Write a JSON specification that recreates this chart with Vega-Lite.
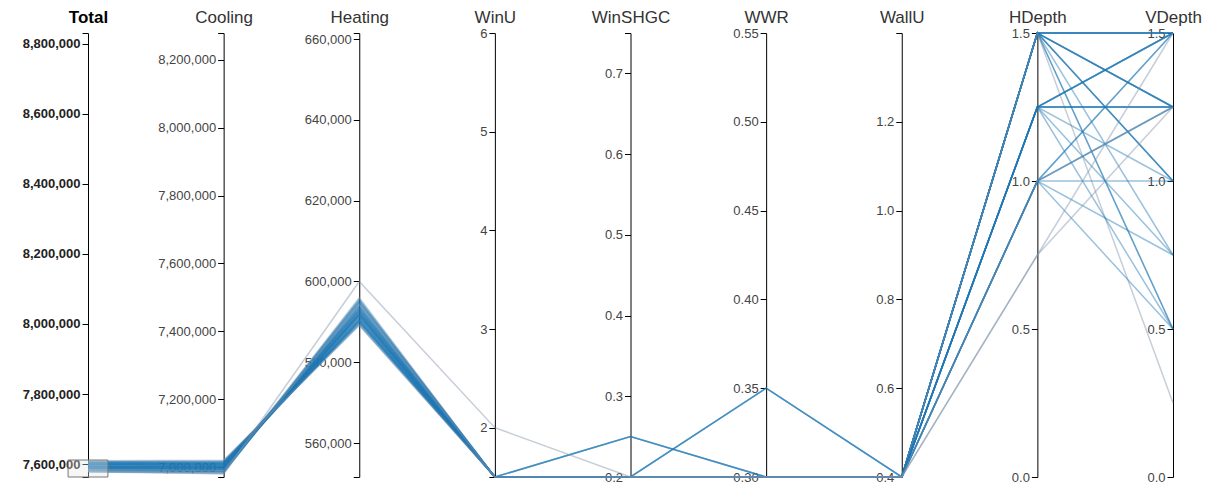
{
  "$schema": "https://vega.github.io/schema/vega-lite/v6.json",
  "width": 1085,
  "height": 444,
  "autosize": {"type": "none"},
  "padding": {"left": 88, "top": 33, "right": 39, "bottom": 9},
  "background": "white",
  "datasets": {
    "rows": [
      {"id": 1, "grp": "a", "Total": 7593500, "Cooling": 7002000, "Heating": 591500, "WinU": 1.5, "WinSHGC": 0.2, "WWR": 0.3, "WallU": 0.4, "HDepth": 1.5, "VDepth": 1.5},
      {"id": 2, "grp": "a", "Total": 7587300, "Cooling": 6995000, "Heating": 592300, "WinU": 1.5, "WinSHGC": 0.2, "WWR": 0.3, "WallU": 0.4, "HDepth": 1.5, "VDepth": 1.5},
      {"id": 3, "grp": "a", "Total": 7598800, "Cooling": 7008000, "Heating": 590800, "WinU": 1.5, "WinSHGC": 0.25, "WWR": 0.3, "WallU": 0.4, "HDepth": 1.5, "VDepth": 1.5},
      {"id": 4, "grp": "a", "Total": 7581400, "Cooling": 6988000, "Heating": 593400, "WinU": 1.5, "WinSHGC": 0.2, "WWR": 0.3, "WallU": 0.4, "HDepth": 1.5, "VDepth": 1.5},
      {"id": 5, "grp": "a", "Total": 7603100, "Cooling": 7013000, "Heating": 590100, "WinU": 1.5, "WinSHGC": 0.2, "WWR": 0.3, "WallU": 0.4, "HDepth": 1.5, "VDepth": 1.5},
      {"id": 6, "grp": "a", "Total": 7590900, "Cooling": 6999000, "Heating": 591900, "WinU": 1.5, "WinSHGC": 0.2, "WWR": 0.3, "WallU": 0.4, "HDepth": 1.5, "VDepth": 1.25},
      {"id": 7, "grp": "a", "Total": 7597700, "Cooling": 7005000, "Heating": 592700, "WinU": 1.5, "WinSHGC": 0.2, "WWR": 0.35, "WallU": 0.4, "HDepth": 1.5, "VDepth": 1.25},
      {"id": 8, "grp": "a", "Total": 7585000, "Cooling": 6991000, "Heating": 594000, "WinU": 1.5, "WinSHGC": 0.2, "WWR": 0.3, "WallU": 0.4, "HDepth": 1.5, "VDepth": 1.25},
      {"id": 9, "grp": "a", "Total": 7605600, "Cooling": 7016000, "Heating": 589600, "WinU": 1.5, "WinSHGC": 0.2, "WWR": 0.3, "WallU": 0.4, "HDepth": 1.5, "VDepth": 1.25},
      {"id": 10, "grp": "a", "Total": 7578800, "Cooling": 6984000, "Heating": 594800, "WinU": 1.5, "WinSHGC": 0.2, "WWR": 0.3, "WallU": 0.4, "HDepth": 1.5, "VDepth": 1.0},
      {"id": 11, "grp": "a", "Total": 7601200, "Cooling": 7010000, "Heating": 591200, "WinU": 1.5, "WinSHGC": 0.25, "WWR": 0.3, "WallU": 0.4, "HDepth": 1.5, "VDepth": 1.0},
      {"id": 12, "grp": "a", "Total": 7590000, "Cooling": 6997000, "Heating": 593000, "WinU": 1.5, "WinSHGC": 0.2, "WWR": 0.3, "WallU": 0.4, "HDepth": 1.5, "VDepth": 1.0},
      {"id": 13, "grp": "a", "Total": 7593400, "Cooling": 7003000, "Heating": 590400, "WinU": 1.5, "WinSHGC": 0.2, "WWR": 0.3, "WallU": 0.4, "HDepth": 1.5, "VDepth": 0.75},
      {"id": 14, "grp": "a", "Total": 7588300, "Cooling": 6993000, "Heating": 595300, "WinU": 1.5, "WinSHGC": 0.2, "WWR": 0.3, "WallU": 0.4, "HDepth": 1.5, "VDepth": 0.5},
      {"id": 15, "grp": "a", "Total": 7599000, "Cooling": 7007000, "Heating": 592000, "WinU": 1.5, "WinSHGC": 0.2, "WWR": 0.3, "WallU": 0.4, "HDepth": 1.5, "VDepth": 0.5},
      {"id": 16, "grp": "b", "Total": 7582000, "Cooling": 6986000, "Heating": 596000, "WinU": 1.5, "WinSHGC": 0.2, "WWR": 0.3, "WallU": 0.4, "HDepth": 1.5, "VDepth": 0.25},
      {"id": 17, "grp": "a", "Total": 7592000, "Cooling": 7001000, "Heating": 591000, "WinU": 1.5, "WinSHGC": 0.2, "WWR": 0.3, "WallU": 0.4, "HDepth": 1.25, "VDepth": 1.5},
      {"id": 18, "grp": "a", "Total": 7600900, "Cooling": 7011000, "Heating": 589900, "WinU": 1.5, "WinSHGC": 0.2, "WWR": 0.3, "WallU": 0.4, "HDepth": 1.25, "VDepth": 1.5},
      {"id": 19, "grp": "a", "Total": 7587700, "Cooling": 6994000, "Heating": 593700, "WinU": 1.5, "WinSHGC": 0.2, "WWR": 0.35, "WallU": 0.4, "HDepth": 1.25, "VDepth": 1.5},
      {"id": 20, "grp": "a", "Total": 7607300, "Cooling": 7018000, "Heating": 589300, "WinU": 1.5, "WinSHGC": 0.2, "WWR": 0.3, "WallU": 0.4, "HDepth": 1.25, "VDepth": 1.5},
      {"id": 21, "grp": "a", "Total": 7590500, "Cooling": 6998000, "Heating": 592500, "WinU": 1.5, "WinSHGC": 0.2, "WWR": 0.3, "WallU": 0.4, "HDepth": 1.25, "VDepth": 1.25},
      {"id": 22, "grp": "a", "Total": 7597700, "Cooling": 7006000, "Heating": 591700, "WinU": 1.5, "WinSHGC": 0.25, "WWR": 0.3, "WallU": 0.4, "HDepth": 1.25, "VDepth": 1.25},
      {"id": 23, "grp": "a", "Total": 7583500, "Cooling": 6989000, "Heating": 594500, "WinU": 1.5, "WinSHGC": 0.2, "WWR": 0.3, "WallU": 0.4, "HDepth": 1.25, "VDepth": 1.25},
      {"id": 24, "grp": "a", "Total": 7604600, "Cooling": 7014000, "Heating": 590600, "WinU": 1.5, "WinSHGC": 0.2, "WWR": 0.3, "WallU": 0.4, "HDepth": 1.25, "VDepth": 1.25},
      {"id": 25, "grp": "a", "Total": 7592900, "Cooling": 7000000, "Heating": 592900, "WinU": 1.5, "WinSHGC": 0.2, "WWR": 0.3, "WallU": 0.4, "HDepth": 1.25, "VDepth": 1.0},
      {"id": 26, "grp": "a", "Total": 7585900, "Cooling": 6992000, "Heating": 593900, "WinU": 1.5, "WinSHGC": 0.2, "WWR": 0.3, "WallU": 0.4, "HDepth": 1.25, "VDepth": 0.75},
      {"id": 27, "grp": "a", "Total": 7600400, "Cooling": 7009000, "Heating": 591400, "WinU": 1.5, "WinSHGC": 0.2, "WWR": 0.3, "WallU": 0.4, "HDepth": 1.25, "VDepth": 0.5},
      {"id": 28, "grp": "a", "Total": 7588200, "Cooling": 6996000, "Heating": 592200, "WinU": 1.5, "WinSHGC": 0.2, "WWR": 0.3, "WallU": 0.4, "HDepth": 1.0, "VDepth": 1.5},
      {"id": 29, "grp": "a", "Total": 7602300, "Cooling": 7012000, "Heating": 590300, "WinU": 1.5, "WinSHGC": 0.2, "WWR": 0.35, "WallU": 0.4, "HDepth": 1.0, "VDepth": 1.5},
      {"id": 30, "grp": "a", "Total": 7582000, "Cooling": 6987000, "Heating": 595000, "WinU": 1.5, "WinSHGC": 0.2, "WWR": 0.3, "WallU": 0.4, "HDepth": 1.0, "VDepth": 1.25},
      {"id": 31, "grp": "a", "Total": 7595800, "Cooling": 7004000, "Heating": 591800, "WinU": 1.5, "WinSHGC": 0.2, "WWR": 0.3, "WallU": 0.4, "HDepth": 1.0, "VDepth": 1.25},
      {"id": 32, "grp": "a", "Total": 7577600, "Cooling": 6982000, "Heating": 595600, "WinU": 1.5, "WinSHGC": 0.2, "WWR": 0.3, "WallU": 0.4, "HDepth": 1.0, "VDepth": 1.0},
      {"id": 33, "grp": "a", "Total": 7605000, "Cooling": 7015000, "Heating": 590000, "WinU": 1.5, "WinSHGC": 0.2, "WWR": 0.3, "WallU": 0.4, "HDepth": 1.0, "VDepth": 0.75},
      {"id": 34, "grp": "a", "Total": 7592700, "Cooling": 6999500, "Heating": 593200, "WinU": 1.5, "WinSHGC": 0.2, "WWR": 0.3, "WallU": 0.4, "HDepth": 1.0, "VDepth": 0.5},
      {"id": 35, "grp": "b", "Total": 7609100, "Cooling": 7020000, "Heating": 589100, "WinU": 1.5, "WinSHGC": 0.2, "WWR": 0.3, "WallU": 0.4, "HDepth": 0.75, "VDepth": 1.5},
      {"id": 36, "grp": "b", "Total": 7584300, "Cooling": 6990000, "Heating": 594300, "WinU": 1.5, "WinSHGC": 0.2, "WWR": 0.3, "WallU": 0.4, "HDepth": 0.75, "VDepth": 1.25},
      {"id": 37, "grp": "b", "Total": 7580000, "Cooling": 6980000, "Heating": 600000, "WinU": 2, "WinSHGC": 0.2, "WWR": 0.3, "WallU": 0.4, "HDepth": 1.0, "VDepth": 1.25}
    ],
    "dims": [
      {"dim": "Total", "idx": 0, "lo": 7563000, "hi": 8831000},
      {"dim": "Cooling", "idx": 1, "lo": 6971000, "hi": 8279000},
      {"dim": "Heating", "idx": 2, "lo": 551600, "hi": 661500},
      {"dim": "WinU", "idx": 3, "lo": 1.5, "hi": 6},
      {"dim": "WinSHGC", "idx": 4, "lo": 0.2, "hi": 0.75},
      {"dim": "WWR", "idx": 5, "lo": 0.3, "hi": 0.55},
      {"dim": "WallU", "idx": 6, "lo": 0.4, "hi": 1.4},
      {"dim": "HDepth", "idx": 7, "lo": 0, "hi": 1.5},
      {"dim": "VDepth", "idx": 8, "lo": 0, "hi": 1.5}
    ],
    "brush": [
      {"lo": 7563000, "hi": 7611500}
    ]
  },
  "data": {"name": "rows"},
  "layer": [
    {
      "transform": [
        {"fold": ["Total", "Cooling", "Heating", "WinU", "WinSHGC", "WWR", "WallU", "HDepth", "VDepth"], "as": ["key", "value"]},
        {"lookup": "key", "from": {"data": {"name": "dims"}, "key": "dim", "fields": ["idx", "lo", "hi"]}},
        {"calculate": "(datum.value - datum.lo) / (datum.hi - datum.lo)", "as": "norm"}
      ],
      "mark": {"type": "line", "strokeWidth": 1.5, "opacity": 0.45},
      "encoding": {
        "x": {"field": "idx", "type": "quantitative", "scale": {"domain": [0, 8], "nice": false, "zero": false}, "axis": null},
        "y": {"field": "norm", "type": "quantitative", "scale": {"domain": [0, 1], "nice": false, "zero": false}, "axis": null},
        "detail": {"field": "id", "type": "nominal"},
        "order": {"field": "idx", "type": "quantitative"},
        "color": {"field": "grp", "type": "nominal", "scale": {"domain": ["a", "b"], "range": ["#1f77b4", "#7f93aa"]}, "legend": null}
      }
    },
    {
      "mark": {"type": "point", "opacity": 0},
      "encoding": {
        "y": {"field": "Cooling", "type": "quantitative", "scale": {"domain": [6971000, 8279000], "nice": false, "zero": false},
          "axis": {"orient": "left", "offset": -135.625, "title": "Cooling", "values": [6971000, 7000000, 7200000, 7400000, 7600000, 7800000, 8000000, 8200000, 8279000],
            "labelExpr": "datum.value < 6980000 || datum.value > 8270000 ? '' : format(datum.value, ',')"}}
      }
    },
    {
      "mark": {"type": "point", "opacity": 0},
      "encoding": {
        "y": {"field": "Heating", "type": "quantitative", "scale": {"domain": [551600, 661500], "nice": false, "zero": false},
          "axis": {"orient": "left", "offset": -271.25, "title": "Heating", "values": [551600, 560000, 580000, 600000, 620000, 640000, 660000, 661500],
            "labelExpr": "datum.value < 555000 || datum.value > 661000 ? '' : format(datum.value, ',')"}}
      }
    },
    {
      "mark": {"type": "point", "opacity": 0},
      "encoding": {
        "y": {"field": "WinU", "type": "quantitative", "scale": {"domain": [1.5, 6], "nice": false, "zero": false},
          "axis": {"orient": "left", "offset": -406.875, "title": "WinU", "values": [1.5, 2, 3, 4, 5, 6],
            "labelExpr": "datum.value < 1.9 ? '' : format(datum.value, 'd')"}}
      }
    },
    {
      "mark": {"type": "point", "opacity": 0},
      "encoding": {
        "y": {"field": "WinSHGC", "type": "quantitative", "scale": {"domain": [0.2, 0.75], "nice": false, "zero": false},
          "axis": {"orient": "left", "offset": -542.5, "title": "WinSHGC", "values": [0.2, 0.3, 0.4, 0.5, 0.6, 0.7, 0.75],
            "labelExpr": "datum.value > 0.74 ? '' : format(datum.value, '.1f')"}}
      }
    },
    {
      "mark": {"type": "point", "opacity": 0},
      "encoding": {
        "y": {"field": "WWR", "type": "quantitative", "scale": {"domain": [0.3, 0.55], "nice": false, "zero": false},
          "axis": {"orient": "left", "offset": -678.125, "title": "WWR", "values": [0.3, 0.35, 0.4, 0.45, 0.5, 0.55], "format": ".2f"}}
      }
    },
    {
      "mark": {"type": "point", "opacity": 0},
      "encoding": {
        "y": {"field": "WallU", "type": "quantitative", "scale": {"domain": [0.4, 1.4], "nice": false, "zero": false},
          "axis": {"orient": "left", "offset": -813.75, "title": "WallU", "values": [0.4, 0.6, 0.8, 1.0, 1.2, 1.4],
            "labelExpr": "datum.value > 1.39 ? '' : format(datum.value, '.1f')"}}
      }
    },
    {
      "mark": {"type": "point", "opacity": 0},
      "encoding": {
        "y": {"field": "HDepth", "type": "quantitative", "scale": {"domain": [0, 1.5], "nice": false, "zero": false},
          "axis": {"orient": "left", "offset": -949.375, "title": "HDepth", "values": [0, 0.5, 1.0, 1.5], "format": ".1f"}}
      }
    },
    {
      "mark": {"type": "point", "opacity": 0},
      "encoding": {
        "y": {"field": "VDepth", "type": "quantitative", "scale": {"domain": [0, 1.5], "nice": false, "zero": false},
          "axis": {"orient": "left", "offset": -1085, "title": "VDepth", "values": [0, 0.5, 1.0, 1.5], "format": ".1f"}}
      }
    },
    {
      "data": {"name": "brush"},
      "mark": {"type": "rect", "fill": "#e6e6e6", "fillOpacity": 0.35, "stroke": "#777777", "strokeWidth": 1},
      "encoding": {
        "x": {"datum": -0.147, "type": "quantitative"},
        "x2": {"datum": 0.147},
        "y": {"field": "lo", "type": "quantitative", "scale": {"domain": [7563000, 8831000], "nice": false, "zero": false},
          "axis": {"orient": "left", "offset": 0, "title": "Total", "titleFontWeight": "bold", "titleColor": "#000000", "labelFontWeight": "bold", "labelColor": "#222222", "values": [7563000, 7600000, 7800000, 8000000, 8200000, 8400000, 8600000, 8800000, 8831000],
            "labelExpr": "datum.value < 7570000 || datum.value > 8820000 ? '' : format(datum.value, ',')"}},
        "y2": {"field": "hi"}
      }
    }
  ],
  "resolve": {"scale": {"y": "independent"}, "axis": {"y": "independent"}},
  "config": {
    "view": {"stroke": null},
    "axis": {
      "grid": false,
      "domainColor": "#000000",
      "domainWidth": 1,
      "tickColor": "#000000",
      "tickSize": 6,
      "tickWidth": 1,
      "labelFont": "Liberation Sans",
      "labelFontSize": 13,
      "labelColor": "#444444",
      "labelPadding": 2,
      "labelOverlap": false,
      "labelFlush": false,
      "titleFont": "Liberation Sans",
      "titleFontSize": 17,
      "titleFontWeight": "normal",
      "titleColor": "#333333"
    },
    "axisY": {
      "titleAngle": 0,
      "titleAlign": "center",
      "titleBaseline": "alphabetic",
      "titleX": 0,
      "titleY": -11
    }
  }
}
